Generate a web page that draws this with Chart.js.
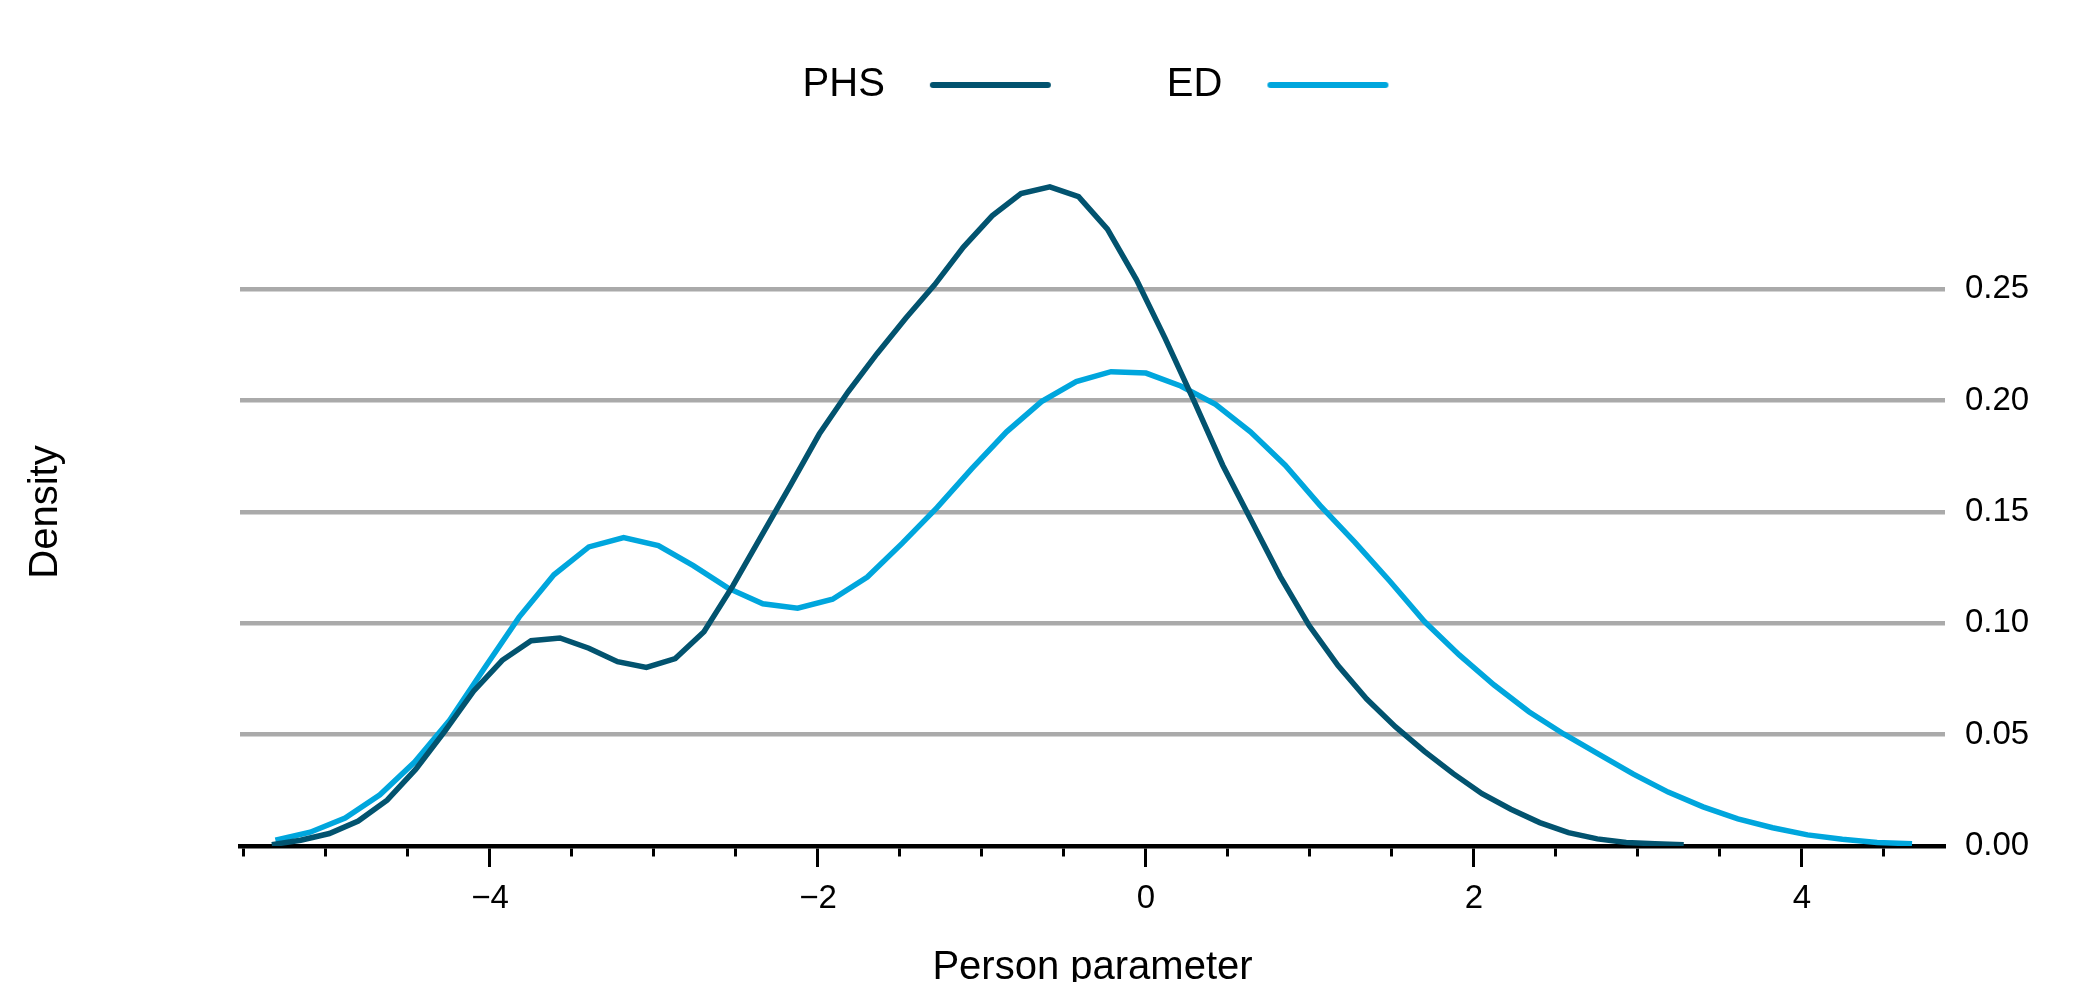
<!DOCTYPE html>
<html>
<head>
<meta charset="utf-8">
<script src="https://cdn.jsdelivr.net/npm/chart.js@4/dist/chart.umd.min.js"></script>
<style>
  html, body { margin: 0; padding: 0; background: #fff; overflow: hidden; }
  #wrap { width: 2077px; height: 982px; }
</style>
</head>
<body>
<div id="wrap"><canvas id="density"></canvas></div>
<script>
// density curves
const phsX = [-5.330, -5.154, -4.979, -4.803, -4.627, -4.452, -4.276, -4.100, -3.925, -3.749,
  -3.573, -3.397, -3.222, -3.046, -2.870, -2.695, -2.519, -2.343, -2.168, -1.992,
  -1.816, -1.641, -1.465, -1.289, -1.113, -0.938, -0.762, -0.586, -0.411, -0.235,
  -0.059, 0.117, 0.292, 0.468, 0.644, 0.819, 0.995, 1.171, 1.346, 1.522,
  1.698, 1.874, 2.049, 2.225, 2.401, 2.576, 2.752, 2.928, 3.103, 3.279];
const phsY = [0.0006, 0.0026, 0.0056, 0.0112, 0.0206, 0.0345, 0.0515, 0.0695, 0.0834, 0.0922,
  0.0934, 0.0888, 0.0828, 0.0802, 0.0842, 0.0962, 0.1168, 0.1395, 0.1620, 0.1850,
  0.2040, 0.2210, 0.2370, 0.2520, 0.2690, 0.2830, 0.2930, 0.2960, 0.2916, 0.2770,
  0.2545, 0.2280, 0.2000, 0.1710, 0.1460, 0.1210, 0.0990, 0.0810, 0.0660, 0.0535,
  0.0425, 0.0325, 0.0235, 0.0165, 0.0105, 0.0060, 0.0032, 0.0016, 0.0010, 0.0006];

const edX = [-5.308, -5.096, -4.883, -4.671, -4.459, -4.246, -4.034, -3.822, -3.610, -3.397,
  -3.185, -2.973, -2.760, -2.548, -2.336, -2.124, -1.911, -1.699, -1.487, -1.274,
  -1.062, -0.850, -0.637, -0.425, -0.213, 0.000, 0.212, 0.424, 0.637, 0.849,
  1.061, 1.273, 1.486, 1.698, 1.910, 2.123, 2.335, 2.547, 2.760, 2.972,
  3.184, 3.397, 3.609, 3.821, 4.034, 4.246, 4.458, 4.671];
const edY = [0.0026, 0.0062, 0.0126, 0.0230, 0.0377, 0.0565, 0.0798, 0.1028, 0.1218, 0.1343,
  0.1385, 0.1349, 0.1259, 0.1158, 0.1088, 0.1068, 0.1108, 0.1208, 0.1359, 0.1520,
  0.1695, 0.1860, 0.1996, 0.2086, 0.2130, 0.2124, 0.2066, 0.1984, 0.1860, 0.1710,
  0.1530, 0.1365, 0.1190, 0.1008, 0.0858, 0.0723, 0.0603, 0.0503, 0.0413, 0.0323,
  0.0242, 0.0176, 0.0122, 0.0082, 0.0050, 0.0030, 0.0016, 0.0010];

// labelled x ticks (short minor ticks every 0.5 in between)
const xTickLabels = [-4, -2, 0, 2, 4];

const PHS_COLOR = '#02536f';
const ED_COLOR = '#00a6dd';

Chart.defaults.font.family = "'Liberation Sans', Arial, Helvetica, sans-serif";
Chart.defaults.color = '#000';

// legend swatch: a short round-capped line with some room on the left
function swatch(color) {
  const c = document.createElement('canvas');
  c.width = 252;
  c.height = 40;
  const g = c.getContext('2d');
  g.strokeStyle = color;
  g.lineWidth = 6;
  g.lineCap = 'round';
  g.beginPath();
  g.moveTo(28, 20);
  g.lineTo(143, 20);
  g.stroke();
  return c;
}
const swatches = [swatch(PHS_COLOR), swatch(ED_COLOR)];

const toPoints = (xs, ys) => xs.map((x, i) => ({ x: x, y: ys[i] }));
const isLabelled = v => xTickLabels.includes(Math.round(v * 2) / 2);

const ctx = document.getElementById('density').getContext('2d');
const chart = new Chart(ctx, {
  type: 'line',
  data: {
    datasets: [{
      label: 'PHS',
      data: toPoints(phsX, phsY),
      borderColor: PHS_COLOR,
      backgroundColor: PHS_COLOR,
      borderWidth: 5.5,
      pointRadius: 0,
      tension: 0,
      fill: false
    }, {
      label: 'ED',
      data: toPoints(edX, edY),
      borderColor: ED_COLOR,
      backgroundColor: ED_COLOR,
      borderWidth: 5.5,
      pointRadius: 0,
      tension: 0,
      fill: false
    }]
  },
  options: {
    responsive: true,
    maintainAspectRatio: false,
    animation: false,
    devicePixelRatio: 1,
    layout: {
      padding: { top: 55, left: 0, right: -220, bottom: 0 } // legend sits centred over the plot
    },
    plugins: {
      tooltip: { enabled: false },
      legend: {
        position: 'top',
        rtl: true,      // text first, line after it
        reverse: true,  // keeps PHS on the left
        labels: {
          usePointStyle: true,
          pointStyleWidth: 252,
          padding: 10,
          font: { size: 40 },
          generateLabels: function (chart) {
            const items = Chart.defaults.plugins.legend.labels.generateLabels(chart);
            items.forEach(it => { it.pointStyle = swatches[it.datasetIndex]; });
            return items;
          }
        }
      }
    },
    scales: {
      x: {
        type: 'linear',
        position: 'bottom',
        min: -5.524,
        max: 4.872,
        afterFit: s => { s.height = 136; },
        border: { display: true, color: '#000', width: 4.5 },
        grid: {
          drawOnChartArea: false,
          drawTicks: true,
          tickLength: 21,
          tickWidth: 3,
          tickColor: '#000',
          // minor ticks: only the first few pixels of the tick are drawn
          tickBorderDash: c => (c.tick && isLabelled(c.tick.value)) ? [] : [8, 200]
        },
        ticks: {
          stepSize: 0.5,
          includeBounds: false,
          autoSkip: false,
          maxRotation: 0,
          padding: 12,
          font: { size: 33 },
          callback: function (v) {
            const r = Math.round(v * 2) / 2;
            return isLabelled(v) ? String(r).replace('-', '\u2212') : '';
          }
        },
        title: {
          display: true,
          text: 'Person parameter',
          font: { size: 40 },
          padding: { top: 0, bottom: -10 }
        }
      },
      xTop: {
        type: 'linear',
        position: 'top',
        display: true,
        afterFit: s => { s.height = 63; },
        ticks: { display: false },
        grid: { display: false },
        border: { display: false }
      },
      y: {
        type: 'linear',
        position: 'right',
        min: 0,
        max: 0.3,
        afterFit: s => { s.width = 352; },
        afterBuildTicks: s => { s.ticks = s.ticks.filter(t => t.value < 0.26); },
        border: { display: false },
        grid: {
          drawTicks: false,
          lineWidth: 4.5,
          color: c => (c.tick && c.tick.value === 0) ? 'rgba(0,0,0,0)' : '#aaaaaa'
        },
        ticks: {
          stepSize: 0.05,
          padding: 20,
          font: { size: 33 },
          callback: v => v.toFixed(2)
        }
      },
      yLeft: {
        type: 'linear',
        position: 'left',
        display: true,
        afterFit: s => { s.width = 240; },
        ticks: { display: false },
        grid: { display: false },
        border: { display: false },
        title: {
          display: true,
          text: 'Density',
          font: { size: 40 },
          padding: { top: 22, bottom: 0 }
        }
      }
    }
  }
});
</script>
</body>
</html>
